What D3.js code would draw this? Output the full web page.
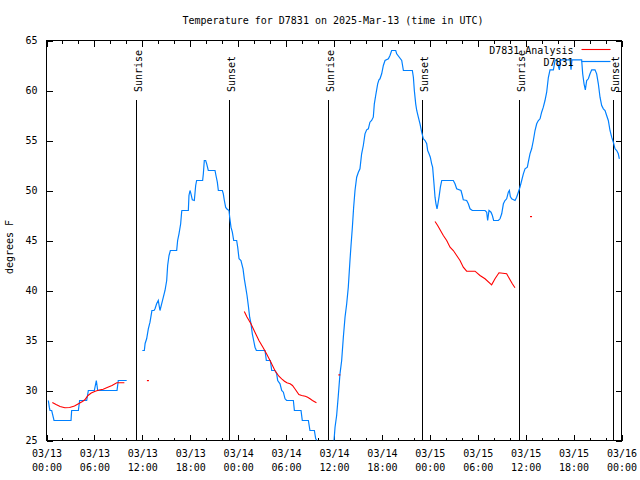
<!DOCTYPE html>
<html>
<head>
<meta charset="utf-8">
<script src="https://cdn.jsdelivr.net/npm/d3@7"></script>
<style>
  html, body { margin: 0; padding: 0; background: #fff; }
  svg { display: block; }
  text { font-family: "DejaVu Sans Mono", "Liberation Mono", monospace; font-size: 10px; fill: #000; }
</style>
</head>
<body>
<div id="chart"></div>
<script>
// ---------------- DATA ----------------
const titleText = "Temperature for D7831 on 2025-Mar-13 (time in UTC)";
const yAxisLabel = "degrees F";
const startUTC = [2025, 2, 13];          // 2025-03-13 00:00 UTC
const spanHours = 72;
const yTicks = [25, 30, 35, 40, 45, 50, 55, 60, 65];
const seriesNames = ["D7831 Analysis", "D7831"];

// observed station temperature (hours since start, degF); null = gap
const obsHours = [
  0.23, 0.35, 0.44, 0.65, 0.94, 3.07, 3.15, 3.99, 4.15, 5.03, 5.24, 5.99, 6.24, 6.41, 8.83, 8.99, 10.04,
  11.0,
  12.0, 12.25, 12.35, 12.54, 12.75, 12.96, 13.17, 13.2, 13.46, 13.59, 13.79, 14.0, 14.1, 14.21, 14.42, 14.63,
  14.84, 15.05, 15.17, 15.34, 15.51, 16.3, 16.42, 16.59, 16.8, 16.92, 16.95, 17.76, 17.84, 17.97, 18.09, 18.26,
  18.51, 18.68, 18.8, 19.55, 19.64, 19.76, 19.93, 20.06, 20.26, 21.1, 21.22, 21.39, 21.52, 22.02, 22.14, 22.27,
  22.43, 22.56, 22.85, 22.94, 23.1, 23.27, 23.44, 23.81, 23.94, 24.11, 24.35, 24.61, 24.77, 24.94, 25.11, 25.27,
  25.44, 25.61, 25.77, 25.94, 26.11, 26.28, 27.36, 27.53, 28.03, 28.2, 28.61, 28.82, 28.95, 29.24, 29.45, 29.66,
  29.87, 30.07, 30.91, 31.04, 31.87, 32.03, 32.79, 32.99, 33.54, 33.71, 33.87,
  35.0,
  36.0, 36.13, 36.33, 36.54, 36.75, 36.96, 37.17, 37.38, 37.59, 37.79, 38.0, 38.13, 38.3, 38.46, 38.63, 38.84,
  39.05, 39.25, 39.46, 39.67, 39.88, 40.09, 40.3, 40.5, 40.71, 40.92, 41.05, 41.22, 41.47, 41.63, 41.76, 41.97,
  42.18, 42.39, 42.81, 43.01, 43.22, 43.73, 43.85, 44.48, 44.69, 45.81, 45.94, 46.06, 46.23, 46.36, 46.56, 46.77,
  46.98, 47.19, 47.4, 47.61, 47.73, 47.9, 48.06, 48.23, 48.35, 48.52, 48.65, 48.77, 48.9, 48.98, 49.15, 49.32,
  49.49, 50.94, 51.15, 51.36, 51.9, 52.07, 52.19, 52.61, 52.82, 53.03, 53.32, 54.91, 55.12, 55.24, 55.41, 55.66,
  55.83, 55.99, 56.58, 56.79, 57.0, 57.21, 57.41, 57.62, 57.83, 57.96, 58.08, 58.25, 58.67, 58.87, 59.08, 59.29,
  59.5, 59.71, 59.92, 60.21, 60.33, 60.54, 60.75, 60.96, 61.17, 61.38, 61.59, 61.8, 62.0, 62.21, 62.42, 62.63,
  62.84, 63.05, 63.47, 63.68, 63.88, 64.22, 64.39, 65.55, 65.68, 65.8, 67.01, 67.14, 67.31, 67.47, 67.64, 67.85,
  68.06, 68.27, 68.68, 68.89, 69.1, 69.31, 69.52, 69.73, 69.94, 70.14, 70.35, 70.56, 70.77, 70.98, 71.19, 71.4,
  71.6, 71.73
];
const obsTemps = [
  29, 28.33, 28, 28, 27, 27, 28, 28, 29, 29, 30, 30, 31, 30, 30, 31, 31,
  null,
  34, 34, 34.7, 35.17, 36.17, 36.83, 37.83, 38, 38, 38.17, 38.67, 39, 38.5, 38, 38.67, 39.33,
  40, 41, 42.5, 43.5, 44, 44, 45, 45.67, 46.67, 47.83, 48, 48, 49.5, 50, 49.67, 49.07,
  49, 50.5, 51, 51, 51.67, 53, 53, 52.67, 52, 52, 51.5, 50.83, 50, 50, 49.67, 49,
  48.33, 48.17, 48, 47.33, 46.33, 45.83, 45, 45, 44.33, 43.17, 43, 42.17, 41.17, 40.33, 39.5, 38.5,
  37.33, 36.67, 35.67, 35, 34.33, 34, 34, 33, 33, 32, 32, 31.67, 31, 30.67, 30, 29.83,
  29.17, 29, 29, 28, 28, 27, 27, 26, 26, 25.17, 25,
  null,
  25, 26.33, 27.5, 29.5, 31.67, 33, 35.33, 37.33, 38.67, 40.33, 43, 44.5, 46.33, 48.33, 50, 51.33,
  51.83, 52.17, 53.67, 54.5, 55.67, 56.07, 56.17, 56.83, 57, 57.33, 58.67, 59.5, 60.67, 61.07, 61.17, 61.67,
  62.5, 63, 63.17, 63.5, 64, 64, 63.67, 63, 62, 62, 61.33, 60, 58.67, 58, 57.33, 56.67,
  55.83, 55.17, 55, 54.67, 54, 53.67, 53.33, 52.67, 52.33, 50.67, 49.33, 48.67, 48.17, 48.5, 49.33, 50.33,
  51, 51, 50.67, 50.17, 50, 49.5, 49.07, 49, 48.67, 48.17, 48, 48, 47.83, 47, 48, 47.83,
  47.5, 47, 47, 47.17, 47.67, 48.67, 49, 49.17, 49.83, 50, 49.4, 49.17, 49, 49.33, 49.83, 50.33,
  51, 51.67, 52.17, 52.33, 52.83, 53.67, 54.17, 55, 56, 56.67, 57, 57.17, 57.83, 58.33, 59, 59.83,
  61.3, 62.07, 62.07, 63, 63.07, 62.07, 63.07, 63.07, 62.07, 63.07, 63.07, 61.67, 60.67, 60.07, 61, 61.17,
  61.67, 62.07, 62.07, 61.67, 60.67, 59.33, 58.5, 58.17, 58, 57.5, 57, 56, 55.33, 54.83, 54.17, 54,
  53.67, 53.17
];

// analysis temperature (hours since start, degF); null = gap
const anaHours = [
  0.73, 1.2, 1.7, 2.3, 2.9, 3.5, 4.0, 4.5, 4.8, 5.2, 5.6, 6.1, 6.6, 7.1, 7.6, 8.2, 8.8, 9.75,
  11.0, 12.7, 18.0,
  24.77, 25.1, 25.6, 26.1, 26.6, 27.1, 27.6, 28.1, 28.6, 29.1, 29.45, 29.8, 30.1, 30.5, 30.8, 31.1,
  31.6, 31.95, 32.4, 32.7, 33.0, 33.3, 33.8,
  35.0, 36.67, 42.0,
  48.65, 48.98, 49.28, 49.69, 50.11, 50.53, 50.94, 51.36, 51.78, 52.19, 52.61, 53.66, 54.28, 54.91,
  55.74, 56.16, 56.66, 57.62, 58.04, 58.33, 58.66,
  59.5, 60.67
];
const anaTemps = [
  28.8, 28.6, 28.4, 28.27, 28.3, 28.45, 28.67, 28.9, 29.07, 29.5, 29.75, 29.93, 30.05, 30.13, 30.3, 30.5, 30.77, 30.77,
  null, 31.0, null,
  37.9, 37.35, 36.67, 35.83, 35.0, 34.33, 33.6, 32.83, 32.0, 31.43, 31.17, 30.93, 30.77, 30.67, 30.5, 30.17,
  29.6, 29.5, 29.43, 29.33, 29.17, 29.0, 28.77,
  null, 31.57, null,
  46.9, 46.5, 46.07, 45.5, 45.0, 44.33, 44.0, 43.5, 43.0, 42.33, 41.93, 41.93, 41.5, 41.17,
  40.57, 41.17, 41.77, 41.67, 41.07, 40.67, 40.27,
  null, 47.4
];

// sunrise / sunset markers (hours since start)
const sunHours = [11.24, 22.9, 35.28, 46.98, 59.2, 70.97];
const sunLabels = ["Sunrise", "Sunset", "Sunrise", "Sunset", "Sunrise", "Sunset"];
const sunMarkTop = 59.1;   // degF level where marker lines stop

// ---------------- CHART ----------------
const W = 640, H = 480;
const colors = { analysis: "#ff0000", obs: "#0080ff" };
const t0 = Date.UTC(startUTC[0], startUTC[1], startUTC[2]);
const toDate = h => new Date(t0 + h * 3600000);

const svg = d3.select("#chart").append("svg").attr("width", W).attr("height", H);

const x = d3.scaleUtc().domain([toDate(0), toDate(spanHours)]).range([46.5, 621.5]);
const y = d3.scaleLinear().domain([yTicks[0], yTicks[yTicks.length - 1]]).range([440.5, 40.5]);

const obs = obsHours.map((h, i) => ({ t: toDate(h), v: obsTemps[i] }));
const ana = anaHours.map((h, i) => ({ t: toDate(h), v: anaTemps[i] }));

svg.append("defs").append("clipPath").attr("id", "plotclip")
  .append("rect").attr("x", x.range()[0]).attr("y", y.range()[1])
  .attr("width", x.range()[1] - x.range()[0]).attr("height", y.range()[0] - y.range()[1]);

function styleAxis(g) {
  g.select(".domain").remove();
  g.selectAll(".tick line").attr("stroke", "#000").attr("shape-rendering", "crispEdges");
  g.attr("font-family", null).attr("font-size", null);
  g.selectAll("text").attr("fill", "#000");
}

// bottom axis: major (labelled) + minor ticks
const fmt = d3.utcFormat("%m/%d|%H:%M");
svg.append("g").attr("transform", `translate(0,${y.range()[0]})`)
  .call(d3.axisBottom(x).ticks(d3.utcHour.every(2)).tickSize(-3).tickFormat(""))
  .call(styleAxis);
const bottom = svg.append("g").attr("transform", `translate(0,${y.range()[0]})`)
  .call(d3.axisBottom(x).ticks(d3.utcHour.every(6)).tickSize(-6).tickFormat(fmt))
  .call(styleAxis);
bottom.selectAll(".tick text").each(function () {
  const parts = d3.select(this).text().split("|");
  const t = d3.select(this).text(null).attr("y", 0).attr("dy", null);
  t.append("tspan").attr("x", 0).attr("y", 16.5).text(parts[0]);
  t.append("tspan").attr("x", 0).attr("y", 30.5).text(parts[1]);
});

// top axis (mirror ticks)
svg.append("g").attr("transform", `translate(0,${y.range()[1]})`)
  .call(d3.axisTop(x).ticks(d3.utcHour.every(2)).tickSize(-3).tickFormat(""))
  .call(styleAxis);
svg.append("g").attr("transform", `translate(0,${y.range()[1]})`)
  .call(d3.axisTop(x).ticks(d3.utcHour.every(6)).tickSize(-6).tickFormat(""))
  .call(styleAxis);

// left & right axes
svg.append("g").attr("transform", `translate(${x.range()[0]},0)`)
  .call(d3.axisLeft(y).tickValues(yTicks).tickSize(-6).tickPadding(9).tickFormat(d3.format("d")))
  .call(styleAxis);
svg.append("g").attr("transform", `translate(${x.range()[1]},0)`)
  .call(d3.axisRight(y).tickValues(yTicks).tickSize(-6).tickFormat(""))
  .call(styleAxis);

// sunrise / sunset markers
const sunG = svg.append("g");
sunHours.forEach((h, i) => {
  const sx = Math.round(x(toDate(h))) + 0.5;
  sunG.append("line").attr("x1", sx).attr("x2", sx)
    .attr("y1", y.range()[0]).attr("y2", y(sunMarkTop))
    .attr("stroke", "#000").attr("stroke-width", 1).attr("shape-rendering", "crispEdges");
  sunG.append("text").attr("transform", `translate(${sx + 5},92) rotate(-90)`)
    .attr("text-anchor", "start").text(sunLabels[i]);
});

// frame
svg.append("rect").attr("x", x.range()[0]).attr("y", y.range()[1])
  .attr("width", x.range()[1] - x.range()[0]).attr("height", y.range()[0] - y.range()[1])
  .attr("fill", "none").attr("stroke", "#000").attr("shape-rendering", "crispEdges");

// series
const line = d3.line().defined(d => d.v != null).x(d => x(d.t)).y(d => y(d.v));
const plot = svg.append("g").attr("clip-path", "url(#plotclip)");
plot.append("path").datum(obs).attr("d", line)
  .attr("fill", "none").attr("stroke", colors.obs).attr("stroke-width", 1.2).attr("stroke-linejoin", "miter");
plot.append("path").datum(ana).attr("d", line)
  .attr("fill", "none").attr("stroke", colors.analysis).attr("stroke-width", 1.1);
// isolated analysis points
const isolated = ana.filter((d, i) => d.v != null &&
  (i === 0 || ana[i - 1].v == null) && (i === ana.length - 1 || ana[i + 1].v == null));
plot.selectAll("rect.pt").data(isolated).enter().append("rect").attr("class", "pt")
  .attr("x", d => x(d.t) - 1).attr("y", d => y(d.v) - 0.5).attr("width", 2).attr("height", 1.2)
  .attr("fill", colors.analysis);

// title & y label
svg.append("text").attr("x", 333).attr("y", 24).attr("text-anchor", "middle").text(titleText);
svg.append("text").attr("transform", "translate(13,247) rotate(-90)")
  .attr("text-anchor", "middle").text(yAxisLabel);

// legend
const legend = svg.append("g");
[colors.analysis, colors.obs].forEach((c, i) => {
  const ly = 49.5 + i * 12;
  legend.append("text").attr("x", 573.5).attr("y", ly + 4.5).attr("text-anchor", "end").text(seriesNames[i]);
  legend.append("line").attr("x1", 581.5).attr("x2", 610.5).attr("y1", ly).attr("y2", ly)
    .attr("stroke", c).attr("stroke-width", i === 0 ? 1.1 : 1.2);
});
</script>
</body>
</html>
